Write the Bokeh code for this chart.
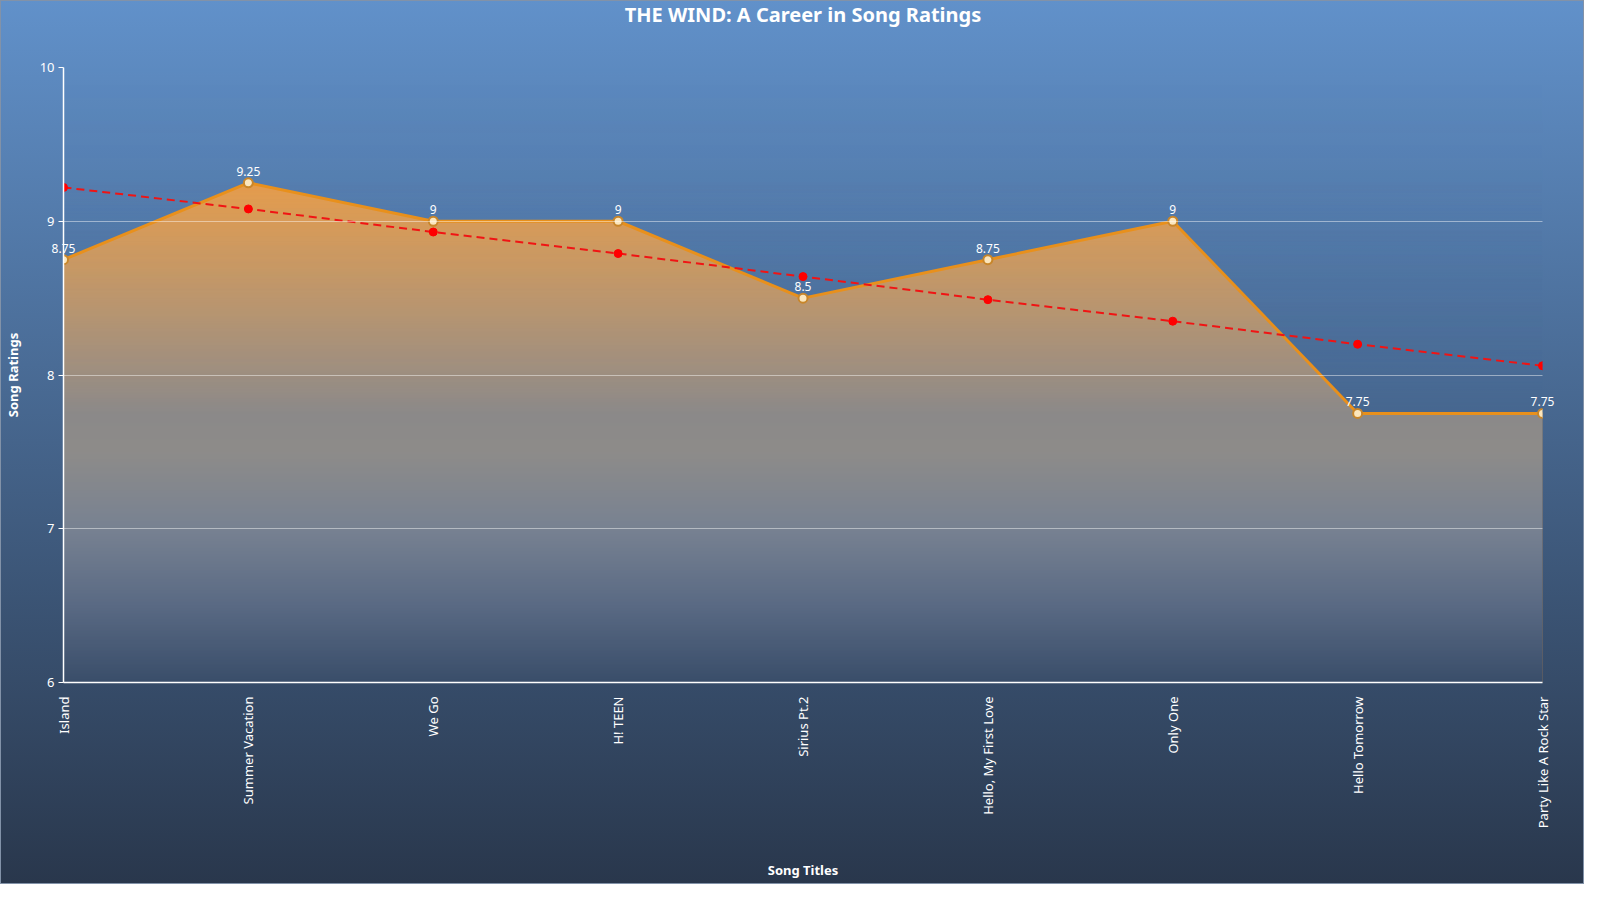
import numpy as np
from bokeh.plotting import figure
from bokeh.models import Range1d, FixedTicker, ColumnDataSource, Title
from bokeh.core.properties import value
from bokeh.embed import file_html
from bokeh.resources import INLINE

songs = ["Island", "Summer Vacation", "We Go", "H! TEEN", "Sirius Pt.2",
         "Hello, My First Love", "Only One", "Hello Tomorrow", "Party Like A Rock Star"]
ratings = [8.75, 9.25, 9, 9, 8.5, 8.75, 9, 7.75, 7.75]
trend = [9.22, 9.08, 8.93, 8.79, 8.64, 8.49, 8.35, 8.20, 8.06]
y_ticks = [6, 7, 8, 9, 10]

W, H = 1584, 884
TOP_RGB = np.array([97, 145, 202])
BOT_RGB = np.array([41, 55, 76])
FONT = "Noto Sans"
ORANGE = np.array([240, 140, 30])
SAND = np.array([230, 215, 195])

# colours of the lower, fully covered part of the fill (from the picture)
fade_y = [6.0, 6.5, 7.0, 7.5]
fade_rgb = [(58, 78, 106), (90, 106, 132), (120, 130, 146), (142, 140, 138)]

pos = list(range(len(songs)))
x_lo, x_hi = pos[0], pos[-1]
y_lo, y_hi = y_ticks[0], y_ticks[-1]
frame_top, frame_bot = 62, 682

p = figure(width=W, height=H, output_backend="svg", toolbar_location=None,
           x_range=Range1d(x_lo, x_hi), y_range=Range1d(y_lo, y_hi),
           min_border_left=59, min_border_right=42, min_border_top=0,
           min_border_bottom=H - frame_bot)

p.border_fill_color = None
p.background_fill_color = None
p.outline_line_color = None
p.styles = {
    "background": "linear-gradient(to bottom, rgb(%d,%d,%d) 0%%, rgb(%d,%d,%d) 100%%)"
                  % (tuple(TOP_RGB) + tuple(BOT_RGB)),
    "outline": "1px solid #8292a8",
    "outline-offset": "-1px",
}

# spacer between frame and title, then the title itself
p.add_layout(Title(text=" ", text_font_size="20px", standoff=14), "above")
p.add_layout(Title(text="THE WIND: A Career in Song Ratings", text_color="white",
                   text_font=FONT, text_font_size="20px", text_font_style="bold",
                   align="center", vertical_align="top", standoff=0), "above")

src = ColumnDataSource(dict(x=pos, y=ratings, base=[y_lo] * len(pos), trend=trend,
                            lbl=[f"{v:g}" for v in ratings]))

# the gradient fill: two area layers, each followed by a fading overlay in the
# background colour (invisible outside the area, fades the layers inside it)
n = 400
y_min, y_max = min(ratings), max(ratings)
rows = np.arange(n)
yv = y_lo + (rows + 0.5) * (y_hi - y_lo) / n
py = frame_bot - (rows + 0.5) * (frame_bot - frame_top) / n
bg = TOP_RGB + (BOT_RGB - TOP_RGB) * (py / H)[:, None]
w1 = np.clip(0.35 + (yv - 8) * 0.52, 0, 1)
w2 = np.clip(1 - (yv - 8) * 0.05, 0, 1)
sand_alpha = 0.25
low = yv < y_min


def to_img(rgb, alpha):
    rgb = np.clip(rgb, 0, 255).astype(np.uint32)
    a8 = (np.clip(alpha, 0, 1) * 255).astype(np.uint32)
    return ((a8 << 24) | (rgb[:, 2] << 16) | (rgb[:, 1] << 8) | rgb[:, 0]).reshape(n, 1)


p.varea(x="x", y1="base", y2="y", source=src,
        fill_color="#%02x%02x%02x" % tuple(ORANGE), fill_alpha=1.0)
p.image_rgba(image=[to_img(bg, 1 - w1)], x=x_lo, y=y_lo, dw=x_hi - x_lo, dh=y_hi - y_lo)

p.varea(x="x", y1="base", y2="y", source=src,
        fill_color="#%02x%02x%02x" % tuple(SAND), fill_alpha=sand_alpha)

# below the lowest point the whole width is inside the area: plain colours there
edge_col = bg + w2[:, None] * (sand_alpha * (SAND - bg)
                               + (1 - sand_alpha) * w1[:, None] * (ORANGE - bg))
rgb2 = bg.copy()
a2 = 1 - w2
top_col = edge_col[~low][0]
fy = fade_y + [y_min]
for c in range(3):
    rgb2[low, c] = np.interp(yv[low], fy, [f[c] for f in fade_rgb] + [top_col[c]])
a2[low] = 1.0
p.image_rgba(image=[to_img(rgb2, a2)], x=x_lo, y=y_lo, dw=x_hi - x_lo, dh=y_hi - y_lo)

p.line(x="x", y="y", source=src, line_color="#e8901c", line_width=3)
p.scatter(x="x", y="y", source=src, size=9, fill_color="#fbe6bd",
          line_color="#c8862a", line_width=2)

p.line(x="x", y="trend", source=src, line_color="#f01414", line_width=2, line_dash="8 5")
p.scatter(x="x", y="trend", source=src, size=8, fill_color="#ff0000", line_color="#ff0000")

# value labels on the overlay level so the ones at the edges are not cut off
p.text(x="x", y="y", text="lbl", source=src, y_offset=-7, level="overlay",
       text_align="center", text_baseline="bottom", text_color="white",
       text_font=value(FONT), text_font_size="12px")

p.ygrid.ticker = FixedTicker(ticks=y_ticks)
p.ygrid.grid_line_color = "white"
p.ygrid.grid_line_alpha = 0.45
p.ygrid.level = "annotation"
p.xgrid.visible = False

p.xaxis.ticker = FixedTicker(ticks=pos)
p.xaxis.major_label_overrides = {i: s for i, s in zip(pos, songs)}
p.xaxis.major_label_orientation = np.pi / 2
p.xaxis.major_label_standoff = 8
p.xaxis.axis_label = "Song Titles"
p.xaxis.axis_label_standoff = 30

p.yaxis.ticker = FixedTicker(ticks=y_ticks)
p.yaxis.major_tick_out = 5
p.yaxis.major_tick_in = 0
p.yaxis.major_label_standoff = 4
p.yaxis.axis_label = "Song Ratings"
p.yaxis.axis_label_standoff = 15

for ax in (p.xaxis, p.yaxis):
    ax.axis_line_color = "white"
    ax.axis_line_width = 1.5
    ax.major_tick_line_color = "white"
    ax.minor_tick_line_color = None
    ax.major_label_text_color = "white"
    ax.major_label_text_font = FONT
    ax.major_label_text_font_size = "13px"
    ax.axis_label_text_color = "white"
    ax.axis_label_text_font = FONT
    ax.axis_label_text_font_size = "13px"
    ax.axis_label_text_font_style = "bold"
p.xaxis.major_tick_line_color = None

open("out.html", "w").write(file_html(p, INLINE))
